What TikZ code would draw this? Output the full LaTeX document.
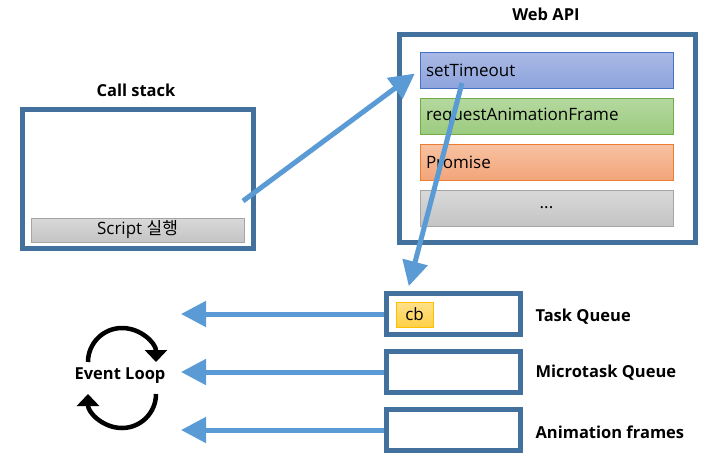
\documentclass[tikz,border=0pt]{standalone}
\usepackage{fontspec}
\setmainfont{Open Sans}
\newfontfamily\kofont{Noto Sans CJK KR}
\usetikzlibrary{arrows.meta}

\definecolor{frameblue}{HTML}{41719C}
\definecolor{arrowblue}{HTML}{5B9BD5}
\definecolor{timerline}{HTML}{4472C4}
\definecolor{timertop}{HTML}{AAB9E5}
\definecolor{timerbot}{HTML}{8EA4DC}
\definecolor{rafline}{HTML}{70AD47}
\definecolor{raftop}{HTML}{B5D9A0}
\definecolor{rafbot}{HTML}{9CCB7F}
\definecolor{promline}{HTML}{ED7D31}
\definecolor{promtop}{HTML}{F7C2A2}
\definecolor{prombot}{HTML}{F3A57A}
\definecolor{etcline}{HTML}{A5A5A5}
\definecolor{etctop}{HTML}{D9D9D9}
\definecolor{etcbot}{HTML}{C4C4C4}
\definecolor{cbline}{HTML}{FFC000}
\definecolor{cbtop}{HTML}{FFE08A}
\definecolor{cbbot}{HTML}{FFD147}

\begin{document}
\begin{tikzpicture}[x=1pt,y=1pt,
  frame/.style={draw=frameblue,line width=5pt,fill=white,inner sep=0pt},
  apibar/.style={draw=#1line,top color=#1top,bottom color=#1bot,line width=0.8pt,
    minimum width=253,minimum height=36,text width=241,align=left,
    font=\fontsize{17}{20}\selectfont},
  title/.style={font=\fontsize{16.5}{20}\selectfont\bfseries},
  flow/.style={arrowblue,line width=5pt,-{Triangle[length=25pt,width=25pt]}},
  loop/.style={line width=4.5pt,-{Triangle[length=12pt,width=22pt]}}]
\useasboundingbox (0,0) rectangle (709,-467);
\newcommand{\qx}{453.5}

% call stack
\node[title] (cstitle) at (136,-90) {Call stack};
\node[frame,minimum width=231,minimum height=139] (cstack) at (138,-179) {};
\node[draw=etcline,line width=0.8pt,top color=etctop,bottom color=etcbot,
  minimum width=213,minimum height=24,inner sep=0pt,font=\fontsize{17}{20}\selectfont]
  (script) at (137.5,-230) {Script {\kofont 실행}};

% web api
\node[title] (apititle) at (546,-14) {Web API};
\node[frame,minimum width=296,minimum height=208] (webapi) at (547.5,-138.5) {};
\node[apibar=timer] (stimer) at (546.5,-70) {setTimeout};
\node[apibar=raf] (raf) at (546.5,-116) {requestAnimationFrame};
\node[apibar=prom] (promise) at (546.5,-162) {Promise};
\node[apibar=etc,align=center] (etc) at (546.5,-208) {...};

% queues
\node[frame,minimum width=134,minimum height=41] (tq) at (\qx,-314) {};
\node[frame,minimum width=134,minimum height=41] (mq) at (\qx,-372) {};
\node[frame,minimum width=134,minimum height=41] (af) at (\qx,-430) {};
\node[draw=cbline,line width=0.8pt,top color=cbtop,bottom color=cbbot,
  minimum width=37,minimum height=25,inner sep=0pt,
  font=\fontsize{17}{20}\selectfont] (cb) at (414.5,-314.5) {cb};
\node[title,anchor=west] at (532,-317) {Task Queue};
\node[title,anchor=west] at (532,-373) {Microtask Queue};
\node[title,anchor=west] at (532,-432) {Animation frames};

% event loop
\node[title] (evloop) at (120,-376) {Event Loop};
\draw[loop] (88,-362) arc[start angle=180,end angle=0,radius=34];
\draw[loop] (156,-394) arc[start angle=0,end angle=-180,radius=34];

% arrows
\coordinate (run) at (243,-201);
\coordinate (timer) at (462,-83);
\coordinate (tip) at (181,0);
\draw[flow,shorten >=6pt] (run) -- (stimer.west);
\draw[flow,shorten >=5pt] (timer) -- ([xshift=-46]tq.north);
\draw[flow] (tq.west) -- (tq.west -| tip);
\draw[flow] (mq.west) -- (mq.west -| tip);
\draw[flow] (af.west) -- (af.west -| tip);
\end{tikzpicture}
\end{document}
